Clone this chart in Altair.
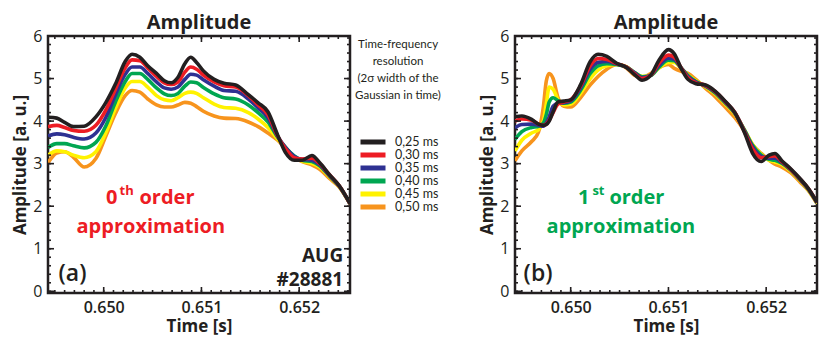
import altair as alt
import pandas as pd

FONT = "Open Sans"
LEG_FONT = "Lato"
INK = "#231f20"

SERIES = ["0,25 ms", "0,30 ms", "0,35 ms", "0,40 ms", "0,45 ms", "0,50 ms"]
COLORS = ["#231f20", "#ed1c24", "#2e3192", "#00a651", "#fff200", "#f7941d"]

X_DOMAIN = [0.64943, 0.65252]
Y_DOMAIN = [-0.04, 6.0]
X_MAJOR = [0.650, 0.651, 0.652]
X_MINOR = [round(0.6495 + i * 0.0001, 4) for i in range(31)]
Y_MAJOR = [0, 1, 2, 3, 4, 5, 6]
Y_MINOR = [round(i * 0.2, 1) for i in range(31)]

LEGEND_TITLE = ["Time-frequency", "resolution", "(2σ width of the", "Gaussian in time)"]

# ---------------- panel (a): 0th order approximation ----------------
TIME_A = [0.64943, 0.64952, 0.64960, 0.64969, 0.64980, 0.64992, 0.65002, 0.65012,
          0.65022, 0.65029, 0.65037, 0.65045, 0.65054, 0.65062, 0.65069, 0.65076,
          0.65083, 0.65089, 0.65095, 0.65102, 0.65113, 0.65123, 0.65135, 0.65148,
          0.65158, 0.65168, 0.65178, 0.65186, 0.65195, 0.65203, 0.65213, 0.65221,
          0.65231, 0.65241, 0.65252]
A_025 = [4.09, 4.07, 3.97, 3.87, 3.88, 4.10, 4.43, 4.87, 5.40, 5.57, 5.50, 5.30,
         5.12, 4.95, 4.90, 5.03, 5.35, 5.50, 5.38, 5.18, 4.98, 4.89, 4.85, 4.62,
         4.43, 4.22, 3.67, 3.26, 3.08, 3.08, 3.19, 3.02, 2.74, 2.48, 2.06]
A_030 = [3.87, 3.90, 3.85, 3.78, 3.76, 3.90, 4.25, 4.75, 5.25, 5.44, 5.42, 5.25,
         5.05, 4.90, 4.86, 4.92, 5.15, 5.27, 5.22, 5.08, 4.92, 4.83, 4.80, 4.60,
         4.38, 4.15, 3.65, 3.35, 3.14, 3.11, 3.13, 3.00, 2.74, 2.48, 2.06]
A_035 = [3.65, 3.70, 3.68, 3.62, 3.58, 3.72, 4.08, 4.62, 5.10, 5.27, 5.27, 5.12,
         4.92, 4.78, 4.75, 4.80, 4.98, 5.10, 5.08, 4.97, 4.82, 4.72, 4.70, 4.52,
         4.31, 4.08, 3.64, 3.38, 3.17, 3.10, 3.08, 2.97, 2.72, 2.47, 2.06]
A_040 = [3.38, 3.47, 3.47, 3.42, 3.37, 3.50, 3.88, 4.45, 4.93, 5.12, 5.12, 4.98,
         4.78, 4.64, 4.60, 4.65, 4.82, 4.92, 4.90, 4.79, 4.64, 4.55, 4.52, 4.38,
         4.20, 3.98, 3.62, 3.38, 3.18, 3.08, 3.05, 2.95, 2.71, 2.47, 2.06]
A_045 = [3.20, 3.30, 3.28, 3.20, 3.14, 3.28, 3.72, 4.30, 4.78, 4.93, 4.93, 4.80,
         4.60, 4.50, 4.48, 4.55, 4.65, 4.68, 4.65, 4.55, 4.40, 4.32, 4.30, 4.20,
         4.05, 3.85, 3.58, 3.38, 3.16, 3.06, 3.01, 2.92, 2.69, 2.46, 2.06]
A_050 = [3.02, 3.25, 3.28, 3.15, 2.92, 3.12, 3.64, 4.18, 4.60, 4.72, 4.68, 4.52,
         4.38, 4.33, 4.33, 4.38, 4.44, 4.42, 4.34, 4.23, 4.12, 4.07, 4.06, 3.98,
         3.87, 3.72, 3.55, 3.36, 3.15, 3.05, 2.97, 2.87, 2.65, 2.45, 2.06]

# ---------------- panel (b): 1st order approximation ----------------
TIME_B = [0.64943, 0.64950, 0.64960, 0.64967, 0.64972, 0.64975, 0.64978, 0.64982,
          0.64987, 0.64993, 0.65000, 0.65010, 0.65020, 0.65028, 0.65037, 0.65047,
          0.65057, 0.65065, 0.65073, 0.65082, 0.65090, 0.65100, 0.65106, 0.65113,
          0.65120, 0.65128, 0.65138, 0.65148, 0.65158, 0.65168, 0.65178, 0.65186,
          0.65195, 0.65203, 0.65209, 0.65216, 0.65225, 0.65235, 0.65243, 0.65252]
B_025 = [4.10, 4.12, 4.04, 3.93, 3.90, 3.92, 4.00, 4.22, 4.45, 4.47, 4.50, 4.85,
         5.40, 5.57, 5.52, 5.36, 5.26, 5.10, 4.96, 5.08, 5.42, 5.68, 5.58, 5.24,
         4.98, 4.88, 4.85, 4.70, 4.47, 4.20, 3.72, 3.25, 3.05, 3.20, 3.24, 3.07,
         2.88, 2.64, 2.42, 2.09]
B_030 = [4.00, 4.05, 4.02, 3.93, 3.90, 3.93, 4.02, 4.20, 4.40, 4.45, 4.50, 4.82,
         5.30, 5.47, 5.45, 5.35, 5.27, 5.12, 5.00, 5.08, 5.35, 5.55, 5.50, 5.25,
         5.02, 4.90, 4.84, 4.69, 4.46, 4.20, 3.74, 3.35, 3.14, 3.17, 3.18, 3.05,
         2.87, 2.63, 2.42, 2.09]
B_035 = [3.84, 3.92, 3.93, 3.90, 3.88, 3.95, 4.10, 4.35, 4.42, 4.43, 4.48, 4.78,
         5.22, 5.38, 5.40, 5.34, 5.27, 5.14, 5.02, 5.08, 5.30, 5.48, 5.45, 5.25,
         5.05, 4.92, 4.83, 4.68, 4.45, 4.19, 3.76, 3.40, 3.17, 3.13, 3.13, 3.03,
         2.86, 2.62, 2.41, 2.08]
B_040 = [3.57, 3.75, 3.85, 3.88, 3.95, 4.15, 4.45, 4.55, 4.48, 4.42, 4.45, 4.72,
         5.12, 5.30, 5.35, 5.33, 5.27, 5.15, 5.04, 5.07, 5.26, 5.43, 5.42, 5.25,
         5.07, 4.93, 4.82, 4.66, 4.43, 4.18, 3.78, 3.43, 3.20, 3.10, 3.08, 3.01,
         2.85, 2.61, 2.40, 2.08]
B_045 = [3.30, 3.55, 3.72, 3.80, 4.00, 4.40, 4.80, 4.75, 4.50, 4.38, 4.40, 4.65,
         5.00, 5.20, 5.30, 5.33, 5.28, 5.15, 5.05, 5.08, 5.24, 5.38, 5.38, 5.24,
         5.08, 4.95, 4.81, 4.64, 4.41, 4.16, 3.79, 3.45, 3.22, 3.08, 3.04, 2.98,
         2.83, 2.60, 2.39, 2.07]
B_050 = [3.07, 3.30, 3.52, 3.74, 4.33, 4.94, 5.12, 5.00, 4.55, 4.35, 4.33, 4.55,
         4.85, 5.05, 5.22, 5.33, 5.25, 5.08, 5.03, 5.12, 5.25, 5.33, 5.24, 5.17,
         5.12, 4.98, 4.77, 4.57, 4.33, 4.08, 3.76, 3.45, 3.24, 3.08, 2.99, 2.92,
         2.79, 2.56, 2.37, 2.06]

W, H = 302, 257


def long_df(time, cols):
    rows = []
    # widest window first so the 0,25 ms curve is drawn on top
    for name, vals in reversed(list(zip(SERIES, cols))):
        for t, v in zip(time, vals):
            rows.append({"t": t, "v": v, "series": name})
    return pd.DataFrame(rows)


DF_A = long_df(TIME_A, [A_025, A_030, A_035, A_040, A_045, A_050])
DF_B = long_df(TIME_B, [B_025, B_030, B_035, B_040, B_045, B_050])

XS = alt.Scale(domain=X_DOMAIN, nice=False, zero=False)
YS = alt.Scale(domain=Y_DOMAIN, nice=False, zero=False)


def x_ticks(values, length, side):
    y0, y1 = (H, H - length) if side == "bottom" else (0, length)
    return alt.Chart(pd.DataFrame({"t": values})).mark_rule(
        color=INK, strokeWidth=1.6).encode(
        x=alt.X("t:Q", scale=XS, axis=None),
        y=alt.value(y0), y2=alt.value(y1))


def y_ticks(values, length, side):
    x0, x1 = (0, length) if side == "left" else (W, W - length)
    return alt.Chart(pd.DataFrame({"v": values})).mark_rule(
        color=INK, strokeWidth=1.6).encode(
        y=alt.Y("v:Q", scale=YS, axis=None),
        x=alt.value(x0), x2=alt.value(x1))


def panel(df, legend, notes):
    lines = alt.Chart(df).mark_line(strokeWidth=3.6, interpolate="monotone",
                                    clip=True).encode(
        x=alt.X("t:Q", scale=XS, axis=alt.Axis(
            values=X_MAJOR, format=".3f", title="Time [s]", ticks=False, domain=False,
            grid=False, labelFontSize=16, labelFontWeight=600, labelColor=INK,
            labelPadding=6, titleFontSize=17, titleFontWeight="bold", titleColor=INK,
            titlePadding=3)),
        y=alt.Y("v:Q", scale=YS, axis=alt.Axis(
            values=Y_MAJOR, format="d", title="Amplitude [a. u.]", ticks=False,
            domain=False, grid=False, labelFontSize=16, labelFontWeight="normal",
            labelColor=INK, labelPadding=6, titleFontSize=17, titleFontWeight="bold",
            titleColor=INK, titlePadding=3)),
        color=alt.Color("series:N", scale=alt.Scale(domain=SERIES, range=COLORS),
                        legend=legend),
    )
    layers = [
        lines,
        x_ticks(X_MINOR, 3, "bottom"), x_ticks(X_MAJOR, 6, "bottom"),
        x_ticks(X_MINOR, 3, "top"), x_ticks(X_MAJOR, 6, "top"),
        y_ticks(Y_MINOR, 3, "left"), y_ticks(Y_MAJOR, 6, "left"),
        y_ticks(Y_MINOR, 3, "right"), y_ticks(Y_MAJOR, 6, "right"),
    ]
    for t, v, text, size, color, align, weight, dx, dy in notes:
        layers.append(
            alt.Chart(pd.DataFrame({"t": [t], "v": [v], "label": [text]}))
            .mark_text(align=align, baseline="alphabetic", fontSize=size, color=color,
                       fontWeight=weight, font=FONT, dx=dx, dy=dy)
            .encode(x=alt.X("t:Q", scale=XS, axis=None),
                    y=alt.Y("v:Q", scale=YS, axis=None),
                    text="label:N")
        )
    return alt.layer(*layers).resolve_axis(x="independent", y="independent").properties(
        width=W, height=H,
        title=alt.TitleParams("Amplitude", fontSize=20, fontWeight="bold", color=INK,
                              anchor="middle", offset=-5, font=FONT, frame="group"),
    )


RED = "#ed1c24"
GREEN = "#00a651"
NOTES_A = [
    (0.650141, 2.04, "0", 20, RED, "right", "bold", 0, 0),
    (0.650141, 2.04, "th", 13, RED, "left", "bold", 2, -9),
    (0.650141, 2.04, "order", 20, RED, "left", "bold", 22, 0),
    (0.650482, 1.38, "approximation", 20, RED, "center", "bold", 0, 0),
    (0.649538, 0.24, "(a)", 23, INK, "left", 600, 0, 0),
    (0.652450, 0.70, "AUG", 19, INK, "right", "bold", 0, 0),
    (0.652450, 0.13, "#28881", 19, INK, "right", "bold", 0, 0),
]
NOTES_B = [
    (0.650191, 2.04, "1", 20, GREEN, "right", "bold", 0, 0),
    (0.650191, 2.04, "st", 13, GREEN, "left", "bold", 3, -9),
    (0.650191, 2.04, "order", 20, GREEN, "left", "bold", 20, 0),
    (0.650513, 1.38, "approximation", 20, GREEN, "center", "bold", 0, 0),
    (0.649518, 0.24, "(b)", 23, INK, "left", 600, 0, 0),
]

LEGEND = alt.Legend(
    orient="none", legendX=307, legendY=3, direction="vertical",
    title=LEGEND_TITLE, titleFontSize=11.5, titleFontWeight="normal", titleColor=INK,
    titleFont=LEG_FONT, titleAnchor="middle", titleAlign="center", titleLineHeight=17,
    titlePadding=34, labelFontSize=12.5, labelColor=INK, labelFont=LEG_FONT,
    symbolType="stroke", symbolStrokeWidth=5, symbolSize=625, clipHeight=13,
    labelOffset=7, rowPadding=0, padding=0,
)

chart = alt.hconcat(
    panel(DF_A, LEGEND, NOTES_A),
    panel(DF_B, None, NOTES_B),
    spacing=34,
).resolve_legend(color="independent").properties(
    padding={"top": 3, "left": 2, "right": 0, "bottom": 0}
).configure(font=FONT).configure_view(stroke=INK, strokeWidth=2.5)

chart.save("out.html", embed_options={"renderer": "svg", "actions": False})
